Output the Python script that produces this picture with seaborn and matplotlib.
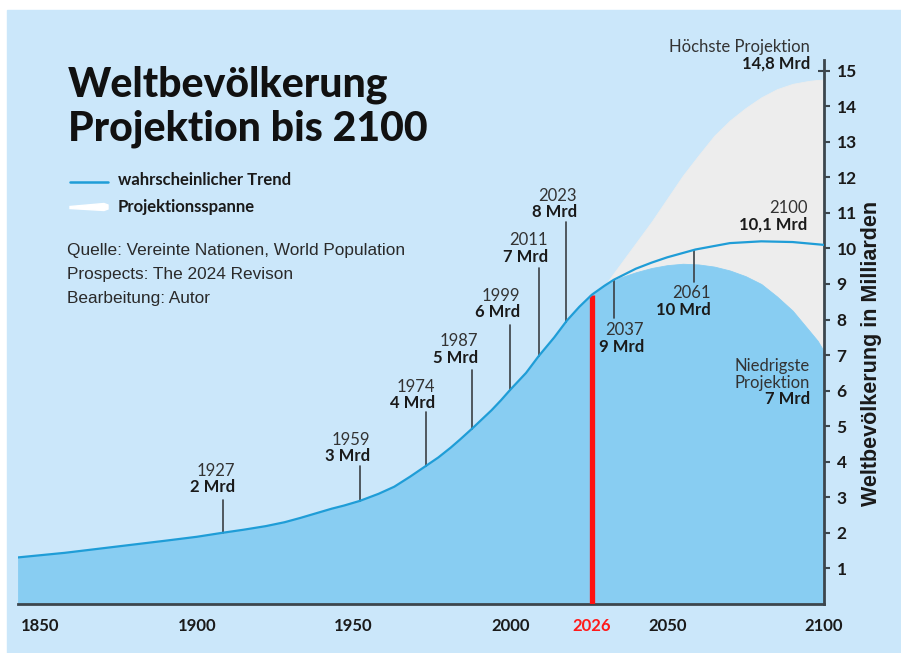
import numpy as np
import matplotlib
matplotlib.use("Agg")
import matplotlib.pyplot as plt
import matplotlib.transforms as mtransforms
from matplotlib.patches import Rectangle, Polygon
from matplotlib.lines import Line2D
import seaborn as sns

# --- data ---
trend_years = [1843, 1858, 1874, 1890, 1900, 1908, 1915, 1922, 1928, 1933, 1938, 1943,
               1947, 1952, 1958, 1963, 1968, 1973, 1977, 1981, 1984, 1988, 1991, 1994,
               1997, 2000, 2005, 2009, 2014, 2018, 2022, 2026, 2030, 2033, 2040,
               2045, 2050, 2059, 2070, 2080, 2090, 2100]
trend_values = [1.31, 1.44, 1.61, 1.78, 1.89, 2.0, 2.09, 2.19, 2.3, 2.42, 2.55, 2.68,
                2.77, 2.9, 3.1, 3.3, 3.58, 3.88, 4.12, 4.4, 4.63, 4.95, 5.2, 5.45,
                5.73, 6.03, 6.5, 6.97, 7.5, 7.97, 8.36, 8.7, 8.95, 9.12, 9.43,
                9.6, 9.75, 9.97, 10.15, 10.2, 10.18, 10.1]

proj_years = [2030, 2035, 2040, 2045, 2050, 2055, 2060, 2065, 2070, 2075, 2080, 2085,
              2090, 2095, 2098, 2100]
proj_high = [8.95, 9.55, 10.15, 10.75, 11.4, 12.05, 12.62, 13.17, 13.6, 13.95, 14.25,
             14.48, 14.63, 14.71, 14.74, 14.75]
proj_low = [8.95, 9.18, 9.33, 9.45, 9.53, 9.57, 9.55, 9.49, 9.38, 9.22, 9.0, 8.65,
            8.25, 7.72, 7.4, 7.1]

milestone_years = ['1927', '1959', '1974', '1987', '1999', '2011', '2023', '2037', '2061']
milestone_mrd = ['2 Mrd', '3 Mrd', '4 Mrd', '5 Mrd', '6 Mrd', '7 Mrd', '8 Mrd', '9 Mrd', '10 Mrd']
stem_x = [1908.5, 1952.1, 1973.1, 1987.7, 1999.9, 2009.0, 2017.7, 2033.1, 2058.6]
stem_end = [2.92, 3.88, 5.40, 6.58, 7.85, 9.45, 10.74, 8.04, 9.06]

today = 2026
x_ticks = [1850, 1900, 1950, 2000, 2026, 2050, 2100]
y_ticks = list(range(1, 16))

# --- layout / style ---
label_pos = [(1912.2, 3.29), (1955.2, 4.16), (1976.0, 5.65), (1989.7, 6.92),
             (2003.1, 8.21), (2012.0, 9.76), (2021.3, 11.02), (2042.6, 7.24),
             (2064.0, 8.27)]
BG = '#cbe7fa'
FILL = '#88cdf2'
LINE = '#1f9dd7'
GREY = '#ededed'
SPINE = '#3c464d'
TXT = '#1a1a1a'
W, H = 901, 653

sns.set_style("white")
plt.rcParams['font.family'] = ['Lato', 'DejaVu Sans']

fig = plt.figure(figsize=(W / 100, H / 100), dpi=100)
fig.patch.set_facecolor('white')
fig.add_artist(Rectangle((7 / W, 0), 1, 1 - 10 / H, transform=fig.transFigure,
                         color=BG, zorder=-10))

ax = fig.add_axes([18 / W, 49 / H, 806 / W, 544 / H])
ax.set_facecolor('none')
ax.set_xlim(1843, 2100)
ax.set_ylim(0, 15.3)

ty = np.array(trend_years)
tv = np.array(trend_values)
hist = ty <= 2030
ax.fill_between(ty[hist], 0, tv[hist], color=FILL, lw=0.6, zorder=1)
ax.fill_between(proj_years, proj_low, proj_high, color=GREY, lw=0.6, zorder=1)
ax.fill_between(proj_years, 0, proj_low, color=FILL, lw=0.6, zorder=2)

today_val = np.interp(today, ty, tv)
ax.plot([today, today], [0, today_val], color='#ff1212', lw=3.8,
        solid_capstyle='butt', zorder=4)

sns.lineplot(x=trend_years, y=trend_values, color=LINE, lw=1.6, ax=ax, zorder=6)

up = mtransforms.offset_copy(ax.transData, fig=fig, y=16.5, units='dots')
for i in range(len(stem_x)):
    cv = np.interp(stem_x[i], ty, tv)
    ax.plot([stem_x[i], stem_x[i]], [cv, stem_end[i]], color='#3a3f44', lw=1.2, zorder=5)
    lx, ly = label_pos[i]
    ax.text(lx, ly, milestone_mrd[i], ha='right', va='center', fontsize=12,
            fontweight='bold', color=TXT)
    ax.text(lx, ly, milestone_years[i], ha='right', va='center', fontsize=12,
            color='#333333', transform=up)

# projection end labels
ax.text(2094.7, 10.66, '10,1 Mrd', ha='right', va='center', fontsize=12,
        fontweight='bold', color=TXT)
ax.text(2094.7, 10.66, '2100', ha='right', va='center', fontsize=12,
        color='#333333', transform=up)
ax.text(2095.6, 15.19, '14,8 Mrd', ha='right', va='center', fontsize=12,
        fontweight='bold', color=TXT)
ax.text(2095.6, 15.19, 'Höchste Projektion', ha='right', va='center', fontsize=12,
        color='#333333', transform=up)
low_y = (604 - 399) / 35.56
ax.text(2095.6, low_y, '7 Mrd', ha='right', va='center', fontsize=12,
        fontweight='bold', color=TXT)
ax.text(2095.6, low_y, 'Projektion', ha='right', va='center', fontsize=12,
        color='#333333', transform=up)
up2 = mtransforms.offset_copy(ax.transData, fig=fig, y=33.5, units='dots')
ax.text(2095.6, low_y, 'Niedrigste', ha='right', va='center', fontsize=12,
        color='#333333', transform=up2)

# axes styling
for s in ['top', 'left']:
    ax.spines[s].set_visible(False)
for s in ['right', 'bottom']:
    ax.spines[s].set_visible(True)
    ax.spines[s].set_color(SPINE)
    ax.spines[s].set_linewidth(2)
ax.yaxis.tick_right()
ax.set_yticks(y_ticks)
ax.set_yticklabels([str(v) for v in y_ticks], fontweight='bold')
ax.set_xticks(x_ticks)
ax.set_xticklabels([str(v) for v in x_ticks], fontweight='bold')
ax.tick_params(axis='y', direction='inout', length=8, width=1.5, pad=5,
               labelsize=12.5, color=SPINE, labelcolor=TXT)
ax.tick_params(axis='x', direction='inout', length=8, width=1.5, pad=6,
               labelsize=12, color=SPINE, labelcolor=TXT)
for lbl in ax.get_xticklabels():
    if lbl.get_text() == str(today):
        lbl.set_color('#ff1a1a')
ax.set_xlabel('')
ax.set_ylabel('')

fig.text(872 / W, 1 - 353 / H, 'Weltbevölkerung in Milliarden', rotation=90,
         ha='center', va='center', fontsize=15.5, fontweight='bold',
         family='Liberation Sans', color=TXT)

# title
fig.text(68 / W, 1 - 97 / H, 'Weltbevölkerung', va='baseline', fontsize=29.5,
         fontweight='black', color='#111111')
fig.text(68 / W, 1 - 140 / H, 'Projektion bis 2100', va='baseline', fontsize=29.5,
         fontweight='black', color='#111111')

# legend
fig.add_artist(Line2D([70 / W, 108 / W], [1 - 181.5 / H] * 2, color=LINE, lw=1.8,
                      transform=fig.transFigure))
fig.text(118 / W, 1 - 180 / H, 'wahrscheinlicher Trend', va='center', fontsize=12,
         fontweight='bold', color=TXT)
pts = [(70, 206.5), (104, 203.5), (108, 205), (108, 209), (104, 210.5), (70, 208.5)]
fig.add_artist(Polygon([(x / W, 1 - y / H) for x, y in pts], closed=True,
                       color='white', transform=fig.transFigure))
fig.text(118 / W, 1 - 207 / H, 'Projektionsspanne', va='center', fontsize=12,
         fontweight='bold', color=TXT)

# source
src = ['Quelle: Vereinte Nationen, World Population',
       'Prospects: The 2024 Revison',
       'Bearbeitung: Autor']
for i, line in enumerate(src):
    fig.text(67 / W, 1 - (250 + 24 * i) / H, line, va='center', fontsize=12.4,
             family='Liberation Sans', color='#2a2a2a')

fig.savefig('out.png', dpi=100)
